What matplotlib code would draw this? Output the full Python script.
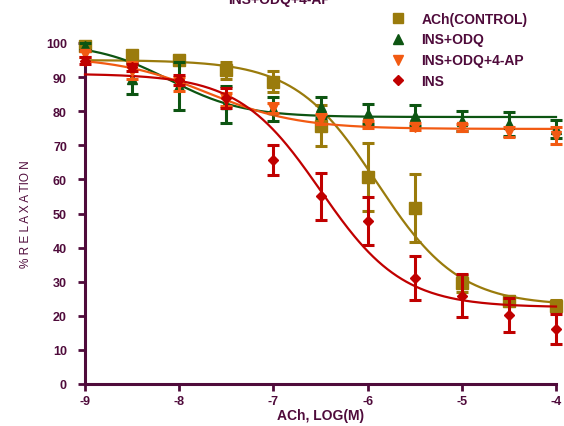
import numpy as np
import matplotlib
matplotlib.use("Agg")
import matplotlib.pyplot as plt

plt.rcParams['font.family'] = ['Liberation Sans', 'DejaVu Sans']

log_ach = [-9, -8.5, -8, -7.5, -7, -6.5, -6, -5.5, -5, -4.5, -4]

ach_ctrl = [99.2, 96.5, 95.0, 92.0, 88.7, 75.7, 60.7, 51.5, 29.5, 24.3, 23.0]
ach_ctrl_err = [1.0, 1.0, 1.5, 2.5, 3.0, 6.0, 10.0, 10.0, 2.5, 1.5, 1.5]

ins_odq = [99.0, 89.5, 87.3, 82.0, 80.6, 81.1, 79.2, 78.7, 77.2, 76.2, 74.8]
ins_odq_err = [1.0, 4.5, 7.0, 5.5, 3.5, 3.0, 3.0, 3.0, 3.0, 3.5, 2.7]

ins_odq_4ap = [96.8, 91.9, 88.0, 83.4, 80.9, 77.7, 76.2, 75.5, 75.3, 74.0, 72.8]
ins_odq_4ap_err = [1.0, 2.5, 2.0, 2.0, 1.5, 1.5, 1.0, 1.0, 1.0, 1.5, 2.5]

ins = [94.8, 92.9, 89.2, 83.8, 65.7, 55.0, 47.9, 31.1, 25.9, 20.2, 16.1]
ins_err = [1.0, 1.0, 1.5, 3.0, 4.3, 6.8, 7.0, 6.4, 6.3, 5.0, 4.3]

# Fitted sigmoid parameters (top, bottom, logEC50, hill)
fit_ach_ctrl = (95.0, 23.0, -5.9, 1.0)
fit_ins_odq = (100.0, 78.3, -8.1, 1.1)
fit_ins_odq_4ap = (96.0, 74.8, -7.7, 0.9)
fit_ins = (91.0, 22.5, -6.5, 1.0)

labels = ['ACh(CONTROL)', 'INS+ODQ', 'INS+ODQ+4-AP', 'INS']
colors = ['#9a7b0c', '#0d5512', '#f25a12', '#c00000']
markers = ['s', '^', 'v', 'D']
msizes = [8, 7.5, 7.5, 5.5]

axis_col = '#4f0b3b'

def sigmoid(x, p):
    top, bottom, ec, h = p
    return bottom + (top - bottom) / (1 + 10 ** ((x - ec) * h))

fig = plt.figure(figsize=(5.64, 4.27), dpi=100)
ax = fig.add_axes([85/564, 42/427, 471/564, 341/427])

xs = np.linspace(-9, -4, 300)
series = [(ach_ctrl, ach_ctrl_err, fit_ach_ctrl),
          (ins_odq, ins_odq_err, fit_ins_odq),
          (ins_odq_4ap, ins_odq_4ap_err, fit_ins_odq_4ap),
          (ins, ins_err, fit_ins)]

handles = []
for i, (vals, errs, fit) in enumerate(series):
    ax.plot(xs, sigmoid(xs, fit), color=colors[i], lw=1.6, zorder=2 + i, clip_on=False)
    ax.errorbar(log_ach, vals, yerr=errs, fmt='none', ecolor=colors[i],
                elinewidth=2.2, capsize=4.5, capthick=2.2, zorder=3 + i, clip_on=False)
    h, = ax.plot(log_ach, vals, linestyle='none', marker=markers[i], ms=msizes[i],
                 color=colors[i], mec=colors[i], zorder=4 + i, clip_on=False, label=labels[i])
    handles.append(h)

for child in ax.get_children():
    try:
        child.set_clip_on(False)
    except Exception:
        pass

ax.set_xlim(-9, -4)
ax.set_ylim(0, 100)
ax.set_xticks([-9, -8, -7, -6, -5, -4])
ax.set_xticklabels(['-9', '-8', '-7', '-6', '-5', '-4'])
ax.set_yticks(range(0, 101, 10))

for s in ['top', 'right']:
    ax.spines[s].set_visible(False)
for s in ['left', 'bottom']:
    ax.spines[s].set_color(axis_col)
    ax.spines[s].set_linewidth(2.2)
ax.tick_params(axis='both', direction='out', colors=axis_col, width=2, length=5,
               labelsize=9)
ax.tick_params(axis='x', pad=3)
ax.tick_params(axis='y', pad=8)
for lab in ax.get_xticklabels() + ax.get_yticklabels():
    lab.set_fontweight('bold')
    lab.set_color(axis_col)

ax.set_xlabel('ACh, LOG(M)', fontsize=10, fontweight='bold', color=axis_col, labelpad=1)
ax.set_ylabel('% R E L A X A TIO N', fontsize=8.5, color=axis_col, labelpad=10)

fig.text(0.495, 1.0, 'INS+ODQ+4-AP', ha='center', va='center', fontsize=10,
         fontweight='bold', color=axis_col)

leg = fig.legend(handles=handles, labels=labels, loc='upper left',
                 bbox_to_anchor=(377/564, 1 - 0/427), frameon=False, fontsize=10,
                 handlelength=1.2, handletextpad=1.1, labelspacing=0.5,
                 markerscale=0.9)
for t in leg.get_texts():
    t.set_fontweight('bold')
    t.set_color(axis_col)

fig.savefig('out.png', dpi=100)
